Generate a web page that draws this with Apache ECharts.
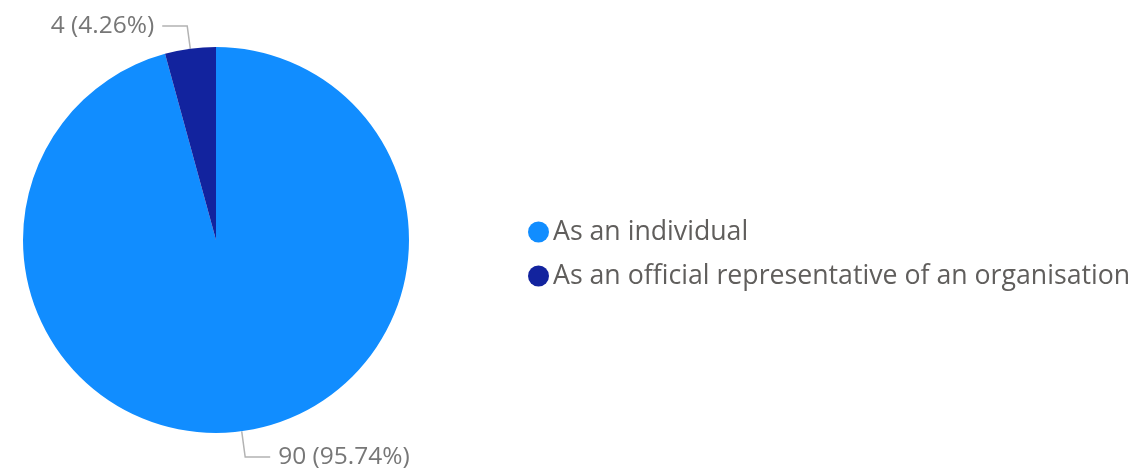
<!DOCTYPE html>
<html>
<head>
<meta charset="utf-8">
<style>
  html, body { margin: 0; padding: 0; background: #ffffff; }
  #chart { width: 1135px; height: 473px; }
</style>
<script src="https://cdn.jsdelivr.net/npm/echarts@6/dist/echarts.min.js"></script>
</head>
<body>
<div id="chart"></div>
<script>
// Respondent type breakdown
const categories = ['As an individual', 'As an official representative of an organisation'];
const counts = [90, 4];
const colors = ['#118DFF', '#12239E'];
// leader-line first segment per slice
const leaderLengths = [26, 23];

const chart = echarts.init(document.getElementById('chart'), null, { renderer: 'canvas' });

const FONT = '"Open Sans", "Noto Sans", sans-serif';

chart.setOption({
  animation: false,
  backgroundColor: '#ffffff',
  color: colors,
  legend: {
    orient: 'vertical',
    left: 523,
    top: 212,
    icon: 'circle',
    itemWidth: 21,
    itemHeight: 21,
    itemGap: 14,
    textStyle: {
      fontFamily: FONT,
      fontSize: 26.7,
      lineHeight: 30,
      color: '#605e5c',
      padding: [0, 0, 0, -1]
    },
    data: categories
  },
  series: [{
    type: 'pie',
    center: [216, 240],
    radius: [0, 193],
    startAngle: 90,
    clockwise: true,
    avoidLabelOverlap: false,
    label: {
      show: true,
      formatter: '{c} ({d}%)',
      fontFamily: FONT,
      fontSize: 24.5,
      color: '#777777',
      padding: [5, 0, 0, 0],
      distanceToLabelLine: 8
    },
    labelLine: {
      show: true,
      length: 26,
      length2: 25,
      lineStyle: { color: '#b3b3b3', width: 1.5 }
    },
    itemStyle: { borderWidth: 0 },
    emphasis: { disabled: true },
    data: categories.map((name, i) => ({
      name,
      value: counts[i],
      labelLine: { length: leaderLengths[i] }
    }))
  }]
});
</script>
</body>
</html>
